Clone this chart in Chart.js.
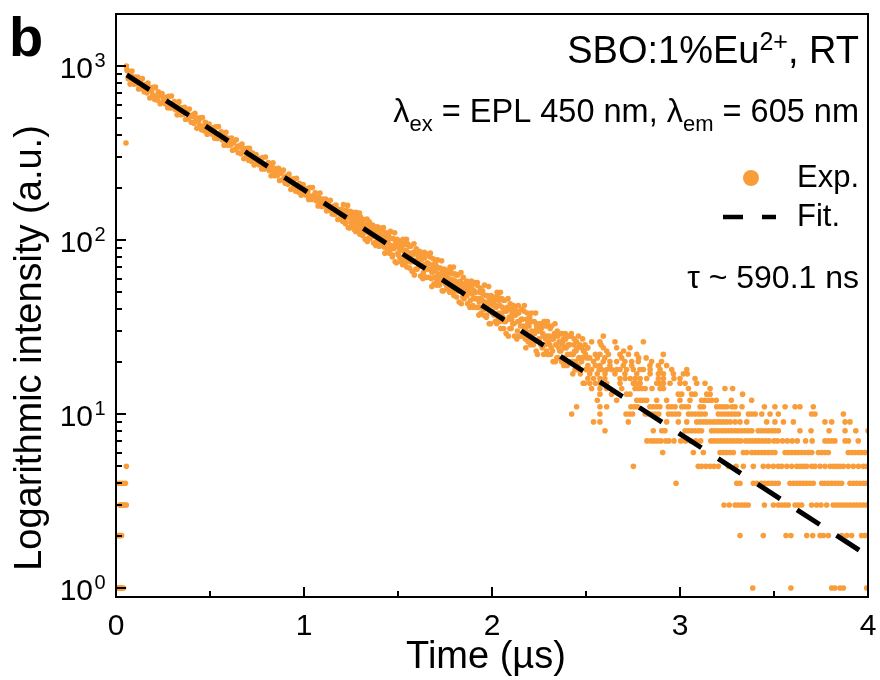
<!DOCTYPE html>
<html>
<head>
<meta charset="utf-8">
<script src="https://cdn.jsdelivr.net/npm/chart.js@4.4.1/dist/chart.umd.min.js"></script>
<style>
  html, body { margin: 0; padding: 0; background: #fff; }
  canvas { display: block; }
</style>
</head>
<body>
<canvas id="chart" width="880" height="680"></canvas>
<script>
const FONT = '"Liberation Sans", Arial, sans-serif';
const ORANGE = "#F99D3A";

// counts recorded before the pulse arrives: [time ns, counts]
const prePulse = [
  [5,1],[10,1],[15,1],[20,1],[25,1],[30,1],[40,1],
  [5,2],[10,2],[15,2],[20,2],[25,2],[30,2],
  [20,3],[25,3],[30,3],[40,3],[45,3],[55,3],
  [5,4],[20,4],[35,4],[50,4],[55,5],[53,361]
];

// main decay, 0.05 - 1.2 us: [time ns, counts]
const decayEarly = [
  [55,1000],[58,955],
  [60,939],[65,844],[70,881],[75,787],[80,884],[85,936],[90,827],[95,787],[100,864],[105,816],
  [110,791],[115,865],[120,738],[125,811],[130,828],[135,743],[140,846],[145,770],[150,711],[155,781],
  [160,767],[165,701],[170,799],[175,727],[180,655],[185,751],[190,723],[195,682],[200,754],[205,643],
  [210,756],[215,674],[220,635],[225,711],[230,672],[235,607],[240,681],[245,695],[250,631],[255,651],
  [260,608],[265,660],[270,636],[275,575],[280,670],[285,603],[290,573],[295,672],[300,594],[305,607],
  [310,625],[315,562],[320,587],[325,524],[330,589],[335,624],[340,551],[345,525],[350,575],[355,544],
  [360,529],[365,578],[370,493],[375,543],[380,554],[385,498],[390,566],[395,515],[400,475],[405,522],
  [410,513],[415,469],[420,535],[425,486],[430,438],[435,502],[440,484],[445,456],[450,504],[455,430],
  [460,505],[465,450],[470,424],[475,475],[480,449],[485,405],[490,454],[495,464],[500,421],[505,435],
  [510,406],[515,441],[520,424],[525,384],[530,447],[535,402],[540,383],[545,448],[550,396],[555,405],
  [560,418],[565,375],[570,392],[575,350],[580,393],[585,416],[590,368],[595,350],[600,384],[605,362],
  [610,352],[615,385],[620,328],[625,361],[630,370],[635,332],[640,377],[645,343],[650,317],[655,348],
  [660,342],[665,313],[670,356],[675,324],[680,293],[685,335],[690,322],[695,304],[700,336],[705,287],
  [710,337],[715,301],[720,283],[725,317],[730,299],[735,270],[740,304],[745,310],[750,281],[755,291],
  [760,271],[765,294],[770,284],[775,256],[780,298],[785,269],[790,256],[795,300],[800,264],[805,270],
  [810,279],[815,251],[820,262],[825,234],[830,263],[835,278],[840,246],[845,234],[850,257],[855,243],
  [860,236],[865,258],[870,220],[875,242],[880,247],[885,221],[890,252],[895,230],[900,212],[905,233],
  [910,228],[915,209],[920,239],[925,217],[930,195],[935,224],[940,216],[945,204],[950,225],[955,191],
  [960,226],[965,201],[970,189],[975,212],[980,200],[985,181],[990,203],[995,208],[1000,188],[1005,195],
  [1010,181],[1015,197],[1020,190],[1025,171],[1030,200],[1035,179],[1040,171],[1045,200],[1050,177],[1055,181],
  [1060,187],[1065,168],[1070,175],[1075,157],[1080,175],[1085,186],[1090,165],[1095,156],[1100,172],[1105,162],
  [1110,157],[1115,172],[1120,147],[1125,161],[1130,165],[1135,148],[1140,169],[1145,153],[1150,141],[1155,156],
  [1160,153],[1165,140],[1170,159],[1175,145],[1180,131],[1185,150],[1190,144],[1195,136],[1200,150],[1205,128]
];

// 1.2 - 2.5 us, wider scatter: [time ns, counts]
const decayLate = [
  [1210,160],[1215,136],[1220,124],[1225,148],[1230,137],[1235,118],[1240,141],[1245,146],[1250,127],[1255,134],
  [1212,139],[1217,148],[1222,126],[1227,134],[1232,158],[1237,142],[1242,117],[1247,136],[1252,125],[1257,144],
  [1260,120],[1265,137],[1270,130],[1275,112],[1280,141],[1285,121],[1290,113],[1295,143],[1300,120],[1305,125],
  [1262,136],[1267,115],[1272,128],[1277,144],[1282,117],[1287,134],[1292,128],[1297,108],[1302,135],[1307,116],
  [1310,131],[1315,112],[1320,120],[1325,101],[1330,121],[1335,132],[1340,111],[1345,103],[1350,119],[1355,109],
  [1312,106],[1317,131],[1322,111],[1327,119],[1332,123],[1337,98],[1342,112],[1347,127],[1352,102],[1357,114],
  [1360,106],[1365,122],[1370,96],[1375,111],[1380,115],[1385,98],[1390,119],[1395,104],[1400,92],[1405,108],
  [1362,113],[1367,105],[1372,119],[1377,113],[1382,93],[1387,106],[1392,113],[1397,93],[1402,100],[1407,117],
  [1410,106],[1415,93],[1420,113],[1425,99],[1430,84],[1435,104],[1440,98],[1445,90],[1450,106],[1455,84],
  [1412,106],[1417,100],[1422,118],[1427,91],[1432,96],[1437,110],[1442,85],[1447,97],[1452,102],[1457,88],
  [1460,112],[1465,90],[1470,80],[1475,102],[1480,92],[1485,75],[1490,95],[1495,101],[1500,84],[1505,90],
  [1462,93],[1467,102],[1472,82],[1477,89],[1482,110],[1487,96],[1492,74],[1497,92],[1502,82],[1507,99],
  [1510,79],[1515,94],[1520,89],[1525,72],[1530,99],[1535,82],[1540,74],[1545,101],[1550,81],[1555,85],
  [1512,93],[1517,75],[1522,87],[1527,101],[1532,77],[1537,94],[1542,87],[1547,70],[1552,95],[1557,77],
  [1560,92],[1565,75],[1570,83],[1575,66],[1580,84],[1585,95],[1590,75],[1595,68],[1600,83],[1605,74],
  [1562,69],[1567,92],[1572,75],[1577,82],[1582,85],[1587,63],[1592,76],[1597,89],[1602,68],[1607,79],
  [1610,71],[1615,86],[1620,62],[1625,77],[1630,80],[1635,65],[1640,85],[1645,71],[1650,61],[1655,74],
  [1612,77],[1617,71],[1622,83],[1627,78],[1632,60],[1637,72],[1642,79],[1647,61],[1652,68],[1657,83],
  [1660,73],[1665,61],[1670,80],[1675,67],[1680,54],[1685,72],[1690,68],[1695,61],[1700,75],[1705,55],
  [1662,73],[1667,68],[1672,84],[1677,60],[1682,65],[1687,78],[1692,56],[1697,67],[1702,71],[1707,59],
  [1710,77],[1715,61],[1720,55],[1725,69],[1730,63],[1735,51],[1740,66],[1745,68],[1750,57],[1755,61],
  [1712,64],[1717,69],[1722,56],[1727,60],[1732,76],[1737,66],[1742,51],[1747,62],[1752,56],[1757,67],
  [1760,54],[1765,65],[1770,60],[1775,50],[1780,67],[1785,56],[1790,50],[1795,70],[1800,55],[1805,58],
  [1762,64],[1767,52],[1772,59],[1777,70],[1782,52],[1787,64],[1792,59],[1797,48],[1802,64],[1807,53],
  [1810,63],[1815,51],[1820,56],[1825,44],[1830,57],[1835,65],[1840,51],[1845,47],[1850,56],[1855,51],
  [1812,47],[1817,63],[1822,51],[1827,55],[1832,58],[1837,43],[1842,52],[1847,61],[1852,46],[1857,54],
  [1860,49],[1865,58],[1870,43],[1875,52],[1880,55],[1885,45],[1890,58],[1895,49],[1900,41],[1905,51],
  [1862,53],[1867,48],[1872,57],[1877,53],[1882,41],[1887,50],[1892,54],[1897,42],[1902,46],[1907,57],
  [1910,50],[1915,41],[1920,55],[1925,46],[1930,37],[1935,50],[1940,46],[1945,41],[1950,51],[1955,37],
  [1912,50],[1917,46],[1922,57],[1927,41],[1932,44],[1937,53],[1942,38],[1947,45],[1952,49],[1957,40],
  [1960,55],[1965,42],[1970,36],[1975,48],[1980,43],[1985,33],[1990,45],[1995,48],[2000,39],[2005,42],
  [1962,44],[1967,48],[1972,37],[1977,41],[1982,54],[1987,46],[1992,33],[1997,43],[2002,38],[2007,47],
  [2010,37],[2015,45],[2020,42],[2025,33],[2030,48],[2035,38],[2040,34],[2045,50],[2050,38],[2055,41],
  [2012,45],[2017,34],[2022,41],[2027,50],[2032,35],[2037,45],[2042,42],[2047,31],[2052,46],[2057,36],
  [2060,45],[2065,34],[2070,39],[2075,29],[2080,40],[2085,46],[2090,35],[2095,31],[2100,40],[2105,35],
  [2062,31],[2067,45],[2072,34],[2077,39],[2082,41],[2087,28],[2092,36],[2097,43],[2102,31],[2107,38],
  [2110,33],[2115,42],[2120,28],[2125,37],[2130,39],[2135,30],[2140,42],[2145,34],[2150,28],[2155,35],
  [2112,37],[2117,33],[2122,40],[2127,38],[2132,27],[2137,34],[2142,38],[2147,28],[2152,32],[2157,40],
  [2160,35],[2165,28],[2170,39],[2175,31],[2180,24],[2185,35],[2190,33],[2195,28],[2200,36],[2205,25],
  [2162,35],[2167,32],[2172,42],[2177,27],[2182,30],[2187,38],[2192,26],[2197,32],[2202,34],[2207,27],
  [2210,38],[2215,29],[2220,25],[2225,34],[2230,30],[2235,23],[2240,31],[2245,33],[2250,27],[2255,30],
  [2212,30],[2217,34],[2222,26],[2227,29],[2232,38],[2237,32],[2242,22],[2247,30],[2252,26],[2257,33],
  [2260,25],[2265,32],[2270,29],[2275,22],[2280,34],[2285,27],[2290,23],[2295,34],[2300,26],[2305,28],
  [2262,31],[2267,24],[2272,28],[2277,34],[2282,25],[2287,32],[2292,28],[2297,22],[2302,32],[2307,25],
  [2310,31],[2315,24],[2320,27],[2325,20],[2330,28],[2335,33],[2340,25],[2345,21],[2350,28],[2355,24],
  [2312,22],[2317,32],[2322,23],[2327,27],[2332,29],[2337,20],[2342,25],[2347,30],[2352,21],[2357,26],
  [2360,23],[2365,29],[2370,20],[2375,25],[2380,27],[2385,21],[2390,29],[2395,24],[2400,19],[2405,25],
  [2362,26],[2367,23],[2372,29],[2377,26],[2382,19],[2387,24],[2392,27],[2397,20],[2402,22],[2407,28],
  [2410,25],[2415,20],[2420,28],[2425,22],[2430,17],[2435,25],[2440,23],[2445,20],[2450,26],[2455,18],
  [2412,25],[2417,22],[2422,29],[2427,20],[2432,22],[2437,27],[2442,18],[2447,23],[2452,24],[2457,19],
  [2460,28],[2465,21],[2470,17],[2475,24],[2480,21],[2485,15],[2490,23],[2495,25],[2500,18],[2505,21],
  [2462,21],[2467,25],[2472,18],[2477,20],[2482,27],[2487,23],[2492,15],[2497,22],[2502,18],[2507,24]
];

// low-count tail: integer count levels and the times (us) at which each was recorded
const tailLevels = [1, 2, 3, 4, 5, 6, 7, 8, 9, 10, 11, 12, 13, 14, 15, 16, 17, 18, 19, 20, 21, 22, 23, 24, 25, 26, 28];
const tailTimes = [
  [3.387, 3.590, 3.807, 3.824, 3.851, 3.869, 3.993],
  [3.319, 3.443, 3.564, 3.590, 3.674, 3.706, 3.745, 3.763, 3.789, 3.860, 3.887, 3.913, 3.966, 3.984],
  [3.234, 3.262, 3.293, 3.310, 3.328, 3.346, 3.363, 3.449, 3.497, 3.523, 3.541, 3.559, 3.576, 3.612, 3.629, 3.647,
   3.700, 3.727, 3.750, 3.780, 3.815, 3.833, 3.851, 3.869, 3.887, 3.904, 3.922, 3.940, 3.957, 3.975, 3.993],
  [2.979, 3.302, 3.319, 3.390, 3.408, 3.434, 3.452, 3.470, 3.488, 3.505, 3.523, 3.585, 3.603, 3.621, 3.638, 3.656,
   3.674, 3.691, 3.709, 3.754, 3.771, 3.789, 3.807, 3.824, 3.842, 3.860, 3.904, 3.922, 3.940, 3.957, 3.975, 3.993],
  [2.752, 3.097, 3.115, 3.138, 3.160, 3.181, 3.204, 3.257, 3.298, 3.337, 3.390, 3.443, 3.470, 3.497, 3.523, 3.541,
   3.568, 3.594, 3.621, 3.638, 3.656, 3.674, 3.701, 3.718, 3.745, 3.771, 3.798, 3.816, 3.833, 3.851, 3.869, 3.895,
   3.922, 3.949, 3.975, 3.993],
  [2.908, 3.071, 3.124, 3.213, 3.231, 3.248, 3.266, 3.284, 3.337, 3.355, 3.381, 3.399, 3.417, 3.435, 3.452, 3.470,
   3.488, 3.505, 3.559, 3.576, 3.594, 3.612, 3.629, 3.647, 3.665, 3.683, 3.701, 3.736, 3.754, 3.771, 3.789, 3.895,
   3.913, 3.931, 3.949, 3.966, 3.984, 4.0],
  [2.824, 2.845, 2.862, 2.880, 2.898, 2.924, 2.941, 2.968, 3.004, 3.030, 3.057, 3.084, 3.110, 3.164, 3.181, 3.199,
   3.217, 3.234, 3.252, 3.270, 3.287, 3.305, 3.323, 3.349, 3.367, 3.385, 3.403, 3.420, 3.438, 3.456, 3.474, 3.500,
   3.518, 3.545, 3.571, 3.597, 3.624, 3.668, 3.703, 3.771, 3.789, 3.807, 3.824, 3.878, 3.896, 3.948],
  [2.601, 2.858, 2.903, 2.920, 3.027, 3.045, 3.062, 3.080, 3.098, 3.115, 3.168, 3.186, 3.204, 3.222, 3.239, 3.257,
   3.275, 3.293, 3.310, 3.328, 3.346, 3.364, 3.382, 3.416, 3.434, 3.452, 3.470, 3.488, 3.505, 3.523, 3.638, 3.697,
   3.793, 3.878, 3.935, 4.0],
  [2.54, 2.574, 2.725, 2.929, 2.991, 3.036, 3.089, 3.107, 3.125, 3.142, 3.160, 3.178, 3.196, 3.213, 3.231, 3.249,
   3.267, 3.293, 3.319, 3.355, 3.461, 3.505, 3.550, 3.603, 3.771, 3.807, 3.878, 3.904],
  [2.424, 2.574, 2.713, 2.731, 2.748, 2.815, 2.833, 2.851, 2.869, 2.887, 2.939, 2.957, 2.975, 2.993, 3.045, 3.062,
   3.080, 3.098, 3.115, 3.134, 3.204, 3.222, 3.240, 3.258, 3.276, 3.293, 3.311, 3.364, 3.382, 3.400, 3.435, 3.479,
   3.523, 3.700, 3.718, 3.869],
  [2.45, 2.574, 2.610, 2.739, 2.757, 2.774, 2.840, 2.858, 2.876, 2.893, 2.938, 2.956, 2.974, 3.009, 3.027, 3.045,
   3.107, 3.125, 3.195, 3.213, 3.231, 3.249, 3.275, 3.293, 3.330, 3.449, 3.505, 3.559, 3.612, 3.638, 3.709],
  [2.56, 2.663, 2.770, 2.788, 2.806, 2.823, 2.876, 2.929, 3.000, 3.053, 3.115, 3.133, 3.151, 3.169, 3.193, 3.273, 3.381],
  [2.574, 2.636, 2.716, 2.734, 2.991, 3.009, 3.062, 3.080, 3.142, 3.160, 3.333],
  [2.53, 2.574, 2.610, 2.690, 2.761, 2.779, 2.797, 2.815, 2.851, 2.894, 2.912, 3.045, 3.160, 3.239, 3.280],
  [2.52, 2.55, 2.574, 2.610, 2.681, 2.752, 2.770, 2.788, 2.876, 2.894, 2.912, 2.947, 3.000, 3.027, 3.089, 3.133],
  [2.51, 2.54, 2.574, 2.600, 2.681, 2.708, 2.735, 2.761, 2.788, 2.823, 2.885, 2.912, 2.968, 3.000, 3.080],
  [2.52, 2.56, 2.601, 2.654, 2.707, 2.770, 2.841, 2.885, 2.912, 2.965, 3.018, 3.039],
  [2.53, 2.57, 2.583, 2.610, 2.636, 2.663, 2.681, 2.716, 2.752, 2.787, 2.805, 2.841, 2.894, 2.956, 3.036],
  [2.51, 2.55, 2.574, 2.627, 2.698, 2.743, 2.840, 2.885, 2.929],
  [2.54, 2.592, 2.627, 2.663, 2.707, 2.743, 2.778, 2.849, 2.902],
  [2.52, 2.56, 2.60, 2.69, 2.78, 2.82],
  [2.55, 2.574, 2.619, 2.681, 2.726, 2.770, 2.911],
  [2.61, 2.70],
  [2.51, 2.592, 2.663, 2.734],
  [2.58],
  [2.53, 2.574, 2.654, 2.805],
  [2.592]
];

// single-exponential fit (tau ~ 590.1 ns), end points
const fitTimes = [0.057, 4];
const fitCounts = [888, 1.53];

const xMajor = [0, 1, 2, 3, 4];
const xMinor = [0.5, 1.5, 2.5, 3.5];
const yDecades = [0, 1, 2, 3];

const expPoints = prePulse.concat(decayEarly, decayLate).map(([t, c]) => ({ x: t / 1000, y: c }));
tailLevels.forEach((level, i) => {
  tailTimes[i].forEach((t) => expPoints.push({ x: t, y: level }));
});
const fitPoints = fitTimes.map((t, i) => ({ x: t, y: fitCounts[i] }));

function drawRuns(ctx, runs, x, y, align) {
  let total = 0;
  runs.forEach((r) => {
    ctx.font = `${r.size}px ${FONT}`;
    r.w = ctx.measureText(r.text).width;
    total += r.w;
  });
  let cx = align === "right" ? x - total : x;
  ctx.textAlign = "left";
  runs.forEach((r) => {
    ctx.font = `${r.size}px ${FONT}`;
    ctx.fillText(r.text, cx, y + (r.dy || 0));
    cx += r.w;
  });
}

const axesAndText = {
  id: "axesAndText",
  afterDraw(chart) {
    const { ctx, chartArea: a, scales } = chart;
    const xs = scales.x;
    const ys = scales.y;
    ctx.save();
    ctx.strokeStyle = "#000";
    ctx.fillStyle = "#000";
    ctx.lineWidth = 2;
    ctx.strokeRect(a.left, a.top, a.right - a.left, a.bottom - a.top);

    // inward ticks
    ctx.beginPath();
    xMajor.forEach((v) => {
      const px = Math.round(xs.getPixelForValue(v));
      ctx.moveTo(px, a.bottom);
      ctx.lineTo(px, a.bottom - 10);
    });
    xMinor.forEach((v) => {
      const px = Math.round(xs.getPixelForValue(v));
      ctx.moveTo(px, a.bottom);
      ctx.lineTo(px, a.bottom - 6);
    });
    yDecades.forEach((d) => {
      const base = Math.pow(10, d);
      const py = Math.round(ys.getPixelForValue(base));
      ctx.moveTo(a.left, py);
      ctx.lineTo(a.left + 10, py);
      for (let m = 2; m <= 9; m++) {
        const v = m * base;
        if (v > ys.max) break;
        const pm = Math.round(ys.getPixelForValue(v));
        ctx.moveTo(a.left, pm);
        ctx.lineTo(a.left + 6, pm);
      }
    });
    ctx.stroke();

    // tick labels
    ctx.textBaseline = "alphabetic";
    ctx.font = `30px ${FONT}`;
    ctx.textAlign = "center";
    xMajor.forEach((v) => {
      ctx.fillText(String(v), xs.getPixelForValue(v), a.bottom + 38);
    });
    yDecades.forEach((d) => {
      const py = ys.getPixelForValue(Math.pow(10, d));
      ctx.font = `30px ${FONT}`;
      ctx.textAlign = "right";
      ctx.fillText("10", 93, py + 12);
      ctx.font = `20px ${FONT}`;
      ctx.textAlign = "left";
      ctx.fillText(String(d), 94.5, py + 1);
    });

    // axis titles
    ctx.font = `38px ${FONT}`;
    ctx.textAlign = "center";
    ctx.fillText("Time (\u00b5s)", 486, 668);
    ctx.save();
    ctx.translate(41, 348);
    ctx.rotate(-Math.PI / 2);
    ctx.fillText("Logarithmic intensity (a.u.)", 0, 0);
    ctx.restore();

    // panel letter
    ctx.font = `bold 56px ${FONT}`;
    ctx.textAlign = "left";
    ctx.fillText("b", 9, 56);

    // annotations
    drawRuns(ctx, [
      { text: "SBO:1%Eu", size: 38 },
      { text: "2+", size: 25, dy: -13 },
      { text: ", RT", size: 38 }
    ], 859, 63, "right");
    drawRuns(ctx, [
      { text: "\u03bb", size: 32.5 },
      { text: "ex", size: 22, dy: 9 },
      { text: " = EPL 450 nm, \u03bb", size: 32.5 },
      { text: "em", size: 22, dy: 9 },
      { text: " = 605 nm", size: 32.5 }
    ], 859, 122, "right");
    drawRuns(ctx, [{ text: "\u03c4 ~ 590.1 ns", size: 32 }], 859, 288, "right");

    // legend
    ctx.fillStyle = ORANGE;
    ctx.beginPath();
    ctx.arc(751, 178, 8, 0, Math.PI * 2);
    ctx.fill();
    ctx.strokeStyle = "#000";
    ctx.lineWidth = 4.5;
    ctx.setLineDash([20, 19]);
    ctx.beginPath();
    ctx.moveTo(723, 217);
    ctx.lineTo(776, 217);
    ctx.stroke();
    ctx.setLineDash([]);
    ctx.fillStyle = "#000";
    ctx.font = `31px ${FONT}`;
    ctx.textAlign = "left";
    ctx.fillText("Exp.", 797, 187);
    ctx.fillText("Fit.", 797, 226);
    ctx.restore();
  }
};

new Chart(document.getElementById("chart"), {
  type: "scatter",
  data: {
    datasets: [
      {
        label: "Fit.",
        data: fitPoints,
        showLine: true,
        borderColor: "#000",
        borderWidth: 5,
        borderDash: [27, 20],
        pointRadius: 0,
        order: 0
      },
      {
        label: "Exp.",
        data: expPoints,
        backgroundColor: ORANGE,
        pointRadius: 2.8,
        pointBorderWidth: 0,
        order: 1
      }
    ]
  },
  options: {
    responsive: false,
    animation: false,
    layout: { padding: { left: 116, right: 12, top: 14, bottom: 83 } },
    plugins: { legend: { display: false }, tooltip: { enabled: false } },
    scales: {
      x: { type: "linear", min: 0, max: 4, display: false },
      y: { type: "logarithmic", min: 0.887, max: 1990, display: false }
    }
  },
  plugins: [axesAndText]
});
</script>
</body>
</html>
